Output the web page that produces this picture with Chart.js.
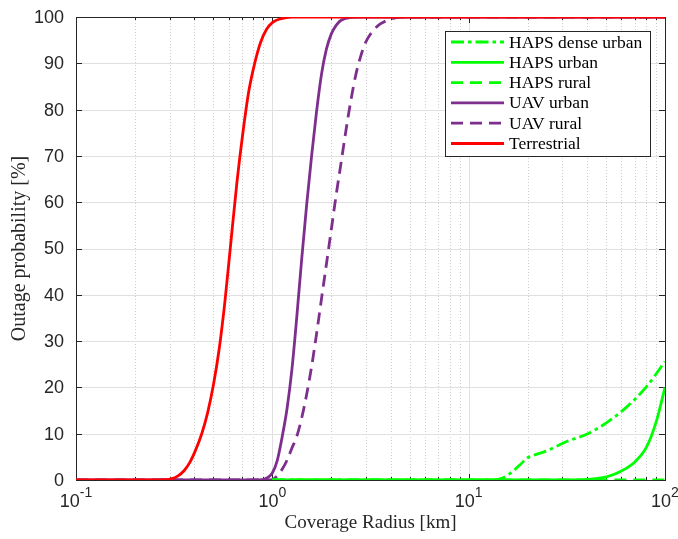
<!DOCTYPE html>
<html><head><meta charset="utf-8">
<script src="https://cdn.jsdelivr.net/npm/chart.js@4/dist/chart.umd.min.js"></script>
<style>html,body{margin:0;padding:0;background:#fff}#wrap{width:678px;height:539px}</style>
</head><body><div id="wrap"><canvas id="c" width="678" height="539"></canvas></div>
<script>
// ---------------- data ----------------
const seriesNames = ['HAPS dense urban', 'HAPS urban', 'HAPS rural', 'UAV urban', 'UAV rural', 'Terrestrial'];

const hapsDenseX = [1, 13, 15, 16.9, 18.5, 19.8, 21, 25, 31.6, 39.9, 50.5, 63.9, 80.7, 100];
const hapsDenseY = [0, 0, 0.5, 2, 3.5, 4.7, 5.2, 6.3, 8.3, 9.9, 12.4, 15.8, 20.2, 25.6];

const hapsUrbanX = [1, 35, 41.5, 50.5, 59, 69, 80.7, 90.8, 100];
const hapsUrbanY = [0, 0, 0.2, 0.7, 1.8, 3.6, 7.2, 13, 20];

const hapsRuralX = [1, 100];
const hapsRuralY = [0, 0];

const uavUrbanX = [0.1, 0.8, 0.891, 0.944, 1.0, 1.059, 1.122, 1.189, 1.259, 1.334, 1.413, 1.496, 1.585, 1.679, 1.778, 1.884, 1.995, 2.113, 2.239, 2.512, 2.818, 100];
const uavUrbanY = [0, 0, 0.1, 0.5, 1.5, 4.2, 9.3, 15.5, 24, 35.5, 48, 59.5, 70, 79.5, 87.5, 93, 96.3, 98.2, 99.3, 99.9, 100, 100];

const uavRuralX = [0.1, 0.95, 1.0, 1.059, 1.122, 1.189, 1.259, 1.334, 1.413, 1.496, 1.585, 1.679, 1.778, 1.884, 1.995, 2.113, 2.239, 2.371, 2.512, 2.661, 2.818, 2.985, 3.162, 3.35, 3.548, 3.981, 4.467, 100];
const uavRuralY = [0, 0, 0.1, 0.9, 2.3, 4.3, 6.9, 9.5, 13.5, 18.5, 24.5, 31.5, 39, 46.5, 54, 61.5, 68.5, 75.5, 82, 87.5, 91.5, 94.5, 96.3, 97.6, 98.5, 99.5, 100, 100];

const terrX = [0.1, 0.251, 0.282, 0.309, 0.331, 0.355, 0.380, 0.407, 0.437, 0.468, 0.501, 0.537, 0.575, 0.617, 0.661, 0.708, 0.759, 0.813, 0.871, 0.933, 1.0, 1.096, 1.259, 100];
const terrY = [0, 0, 0.05, 0.3, 0.9, 2.0, 3.8, 6.5, 10, 14.5, 20.5, 28.5, 39, 52, 64.5, 75, 84, 90, 94.5, 97.3, 98.8, 99.6, 100, 100];

const xTickValues = [0.1, 1, 10, 100];
const xTickExponents = ['-1', '0', '1', '2'];
const yTickValues = [0, 10, 20, 30, 40, 50, 60, 70, 80, 90, 100];
const xTitle = 'Coverage Radius [km]';
const yTitle = 'Outage probability [%]';

// ---------------- styles ----------------
const GREEN = '#00ff00', PURPLE = '#7e2f8e', RED = '#ff0000';
const DASH = [12, 7], DASHDOT = [13, 4, 3.5, 4];
const AX = '#262626';
const SANS = '"Liberation Sans", Arial, sans-serif';
const SERIF = '"Liberation Serif", "Times New Roman", serif';

const pts = (xs, ys) => xs.map((v, i) => ({x: v, y: ys[i]}));
const mk = (label, xs, ys, color, dash, order) => ({
  label, data: pts(xs, ys), borderColor: color, backgroundColor: color,
  borderWidth: 2.8, borderDash: dash, pointRadius: 0, fill: false,
  cubicInterpolationMode: 'monotone', order, borderCapStyle: 'butt'
});

const datasets = [
  mk(seriesNames[0], hapsDenseX, hapsDenseY, GREEN, DASHDOT, 1),
  mk(seriesNames[1], hapsUrbanX, hapsUrbanY, GREEN, [], 1),
  mk(seriesNames[2], hapsRuralX, hapsRuralY, GREEN, DASH, 1),
  mk(seriesNames[3], uavUrbanX, uavUrbanY, PURPLE, [], 2),
  mk(seriesNames[4], uavRuralX, uavRuralY, PURPLE, DASH, 2),
  mk(seriesNames[5], terrX, terrY, RED, [], 0)
];

const xMinor = [];
for (const d of [0.1, 1, 10]) for (let k = 2; k <= 9; k++) xMinor.push(d * k);

function seg(ctx, x1, y1, x2, y2) { ctx.beginPath(); ctx.moveTo(x1, y1); ctx.lineTo(x2, y2); ctx.stroke(); }

const matlabAxes = {
  id: 'matlabAxes',
  beforeDatasetsDraw(chart) {
    const {ctx, chartArea: a, scales: {x, y}} = chart;
    ctx.save();
    ctx.lineWidth = 1;
    ctx.strokeStyle = '#cfcfcf';
    ctx.setLineDash([1, 2]);
    for (const v of xMinor) { const p = Math.round(x.getPixelForValue(v)) + 0.5; seg(ctx, p, a.top, p, a.bottom); }
    ctx.setLineDash([]);
    ctx.strokeStyle = '#e0e0e0';
    for (const v of xTickValues) { const p = Math.round(x.getPixelForValue(v)) + 0.5; seg(ctx, p, a.top, p, a.bottom); }
    for (const v of yTickValues) { const p = Math.round(y.getPixelForValue(v)) + 0.5; seg(ctx, a.left, p, a.right, p); }
    ctx.strokeStyle = AX;
    ctx.strokeRect(Math.round(a.left) + 0.5, Math.round(a.top) + 0.5, Math.round(a.right - a.left), Math.round(a.bottom - a.top));
    const L = 6, l = 3;
    for (const v of xTickValues) { const p = Math.round(x.getPixelForValue(v)) + 0.5; seg(ctx, p, a.bottom, p, a.bottom - L); seg(ctx, p, a.top, p, a.top + L); }
    for (const v of xMinor) { const p = Math.round(x.getPixelForValue(v)) + 0.5; seg(ctx, p, a.bottom, p, a.bottom - l); seg(ctx, p, a.top, p, a.top + l); }
    for (const v of yTickValues) { const p = Math.round(y.getPixelForValue(v)) + 0.5; seg(ctx, a.left, p, a.left + L, p); seg(ctx, a.right, p, a.right - L, p); }
    ctx.fillStyle = AX;
    ctx.font = '18px ' + SANS;
    ctx.textAlign = 'right'; ctx.textBaseline = 'middle';
    for (const v of yTickValues) ctx.fillText(String(v), a.left - 12, y.getPixelForValue(v) + 1);
    ctx.textBaseline = 'alphabetic'; ctx.textAlign = 'left';
    xTickValues.forEach((v, i) => {
      ctx.font = '18px ' + SANS;
      const wb = ctx.measureText('10').width;
      ctx.font = '14px ' + SANS;
      const we = ctx.measureText(xTickExponents[i]).width;
      const p = x.getPixelForValue(v);
      const x0 = p - (wb + we) / 2;
      ctx.font = '18px ' + SANS;
      ctx.fillText('10', x0, 507);
      ctx.font = '14px ' + SANS;
      ctx.fillText(xTickExponents[i], x0 + wb, 497);
    });
    ctx.font = '19px ' + SERIF;
    ctx.textAlign = 'center'; ctx.textBaseline = 'middle';
    ctx.fillText(xTitle, (a.left + a.right) / 2, 523);
    ctx.save();
    ctx.translate(20, (a.top + a.bottom) / 2);
    ctx.rotate(-Math.PI / 2);
    ctx.font = '20px ' + SERIF;
    ctx.fillText(yTitle, 0, 0);
    ctx.restore();
    ctx.restore();
  },
  afterDatasetsDraw(chart) {
    const {ctx} = chart;
    ctx.save();
    const bx = 445.5, by = 31.5, bw = 205, bh = 125;
    ctx.fillStyle = '#fff';
    ctx.fillRect(bx, by, bw, bh);
    ctx.strokeStyle = AX; ctx.lineWidth = 1;
    ctx.strokeRect(bx, by, bw, bh);
    ctx.font = '17.5px ' + SERIF;
    ctx.textAlign = 'left'; ctx.textBaseline = 'middle';
    chart.data.datasets.forEach((ds, i) => {
      const yy = 42 + i * 20.3;
      ctx.strokeStyle = ds.borderColor; ctx.lineWidth = 2.8;
      ctx.setLineDash(ds.borderDash || []);
      seg(ctx, 451, yy, 504, yy);
      ctx.setLineDash([]);
      ctx.fillStyle = '#000';
      ctx.fillText(ds.label, 509, yy + 1);
    });
    ctx.restore();
  }
};

new Chart(document.getElementById('c'), {
  type: 'line',
  data: {datasets},
  options: {
    responsive: false, animation: false, devicePixelRatio: 1,
    layout: {padding: {left: 76, top: 17, right: 13, bottom: 59}},
    plugins: {legend: {display: false}, tooltip: {enabled: false}},
    scales: {
      x: {type: 'logarithmic', min: 0.1, max: 100, display: false},
      y: {type: 'linear', min: 0, max: 100, display: false}
    }
  },
  plugins: [matlabAxes]
});
</script></body></html>
